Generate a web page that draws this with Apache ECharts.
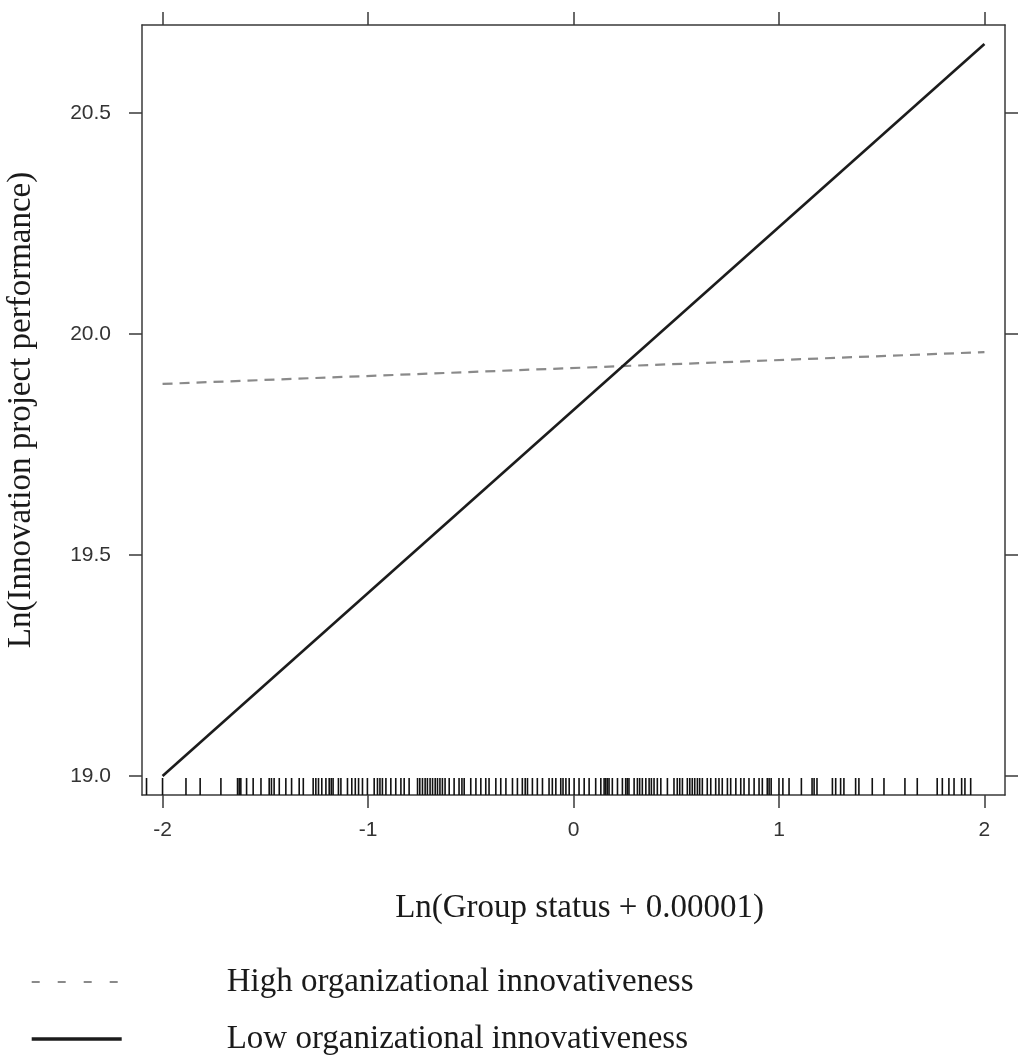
<!DOCTYPE html>
<html><head><meta charset="utf-8">
<script src="https://cdn.jsdelivr.net/npm/echarts@6/dist/echarts.min.js"></script>
<style>html,body{margin:0;padding:0;background:#fff}#c{width:1025px;height:1056px}</style>
</head><body><div id="c"></div>
<script>
const xTicks = [-2, -1, 0, 1, 2];
const yTicks = [19.0, 19.5, 20.0, 20.5];
const xRange = [-2.1, 2.1];
const yRange = [18.957, 20.699];
const lineX = [-2, 2];
const highY = [19.887, 19.959];
const lowY = [19.0, 20.656];
const seriesNames = ['High organizational innovativeness', 'Low organizational innovativeness'];
const xTitle = 'Ln(Group status + 0.00001)';
const yTitle = 'Ln(Innovation project performance)';
const rugX = [
  -2.078, -2.0, -1.886, -1.817, -1.716, -1.635, -1.627, -1.619, -1.591, -1.559, -1.521, -1.481, -1.470, -1.457,
  -1.432, -1.400, -1.372, -1.335, -1.315, -1.267, -1.254, -1.241, -1.225, -1.205, -1.189, -1.179, -1.170, -1.144,
  -1.132, -1.100,
  -1.079, -1.062, -1.046, -1.027, -1.003, -0.970, -0.954, -0.942, -0.930, -0.913, -0.889, -0.865, -0.840, -0.824,
  -0.800, -0.759, -0.748, -0.735, -0.722, -0.711, -0.698, -0.686, -0.673, -0.662, -0.650, -0.638, -0.625, -0.605,
  -0.581, -0.557, -0.543, -0.532, -0.500, -0.475, -0.451, -0.427, -0.411, -0.378, -0.354, -0.329, -0.297, -0.273,
  -0.249, -0.235, -0.224, -0.200, -0.176, -0.151, -0.119, -0.103, -0.086,
  -0.062, -0.051, -0.037, -0.021, 0.003, 0.027, 0.052, 0.076, 0.108, 0.133, 0.149, 0.157, 0.165, 0.173, 0.189,
  0.214, 0.238, 0.254, 0.262, 0.270, 0.295, 0.311, 0.322, 0.335, 0.352, 0.368, 0.379, 0.392, 0.408, 0.425, 0.457,
  0.489, 0.505, 0.517, 0.530, 0.554, 0.566, 0.578, 0.590, 0.603, 0.614, 0.627, 0.651, 0.668, 0.692, 0.708, 0.724,
  0.749, 0.765, 0.790, 0.814, 0.830, 0.854, 0.879, 0.903, 0.919, 0.943,
  0.952, 0.962, 1.000, 1.019, 1.049, 1.109, 1.161, 1.171, 1.185, 1.260, 1.276, 1.300, 1.316, 1.373, 1.389, 1.454,
  1.511, 1.613, 1.673, 1.770, 1.795, 1.827, 1.852, 1.889, 1.905, 1.933
];

const axisColor = '#3a3a3a';
const labelFont = {fontFamily: 'Liberation Sans', fontSize: 21, color: '#333'};
const serif = 'Liberation Serif';

function xAxisDef(pos, showLabel) {
  return {
    type: 'value', position: pos, min: xRange[0], max: xRange[1],
    axisLine: {show: true, onZero: false, lineStyle: {color: axisColor, width: 1.5}},
    axisTick: {show: true, inside: false, length: 13, customValues: xTicks, lineStyle: {color: axisColor, width: 1.5}},
    axisLabel: Object.assign({show: showLabel, customValues: xTicks, margin: 25, formatter: v => String(v)}, labelFont),
    splitLine: {show: false},
    name: showLabel ? xTitle : '', nameLocation: 'middle', nameGap: 97,
    nameTextStyle: {fontFamily: serif, fontSize: 33, color: '#1a1a1a', padding: [0, 0, 0, 12]}
  };
}
function yAxisDef(pos, showLabel) {
  return {
    type: 'value', position: pos, min: yRange[0], max: yRange[1],
    axisLine: {show: true, onZero: false, lineStyle: {color: axisColor, width: 1.5}},
    axisTick: {show: true, inside: false, length: 13, customValues: yTicks, lineStyle: {color: axisColor, width: 1.5}},
    axisLabel: Object.assign({show: showLabel, customValues: yTicks, margin: 31, formatter: v => v.toFixed(1)}, labelFont),
    splitLine: {show: false},
    name: showLabel ? yTitle : '', nameLocation: 'middle', nameGap: 104, nameRotate: 90,
    nameTextStyle: {fontFamily: serif, fontSize: 33, color: '#1a1a1a'}
  };
}

const chart = echarts.init(document.getElementById('c'), null, {renderer: 'canvas'});
chart.setOption({
  animation: false,
  backgroundColor: '#fff',
  grid: {left: 142, top: 25, width: 863, height: 770, containLabel: false, outerBoundsMode: 'none'},
  xAxis: [xAxisDef('bottom', true), xAxisDef('top', false)],
  yAxis: [yAxisDef('left', true), yAxisDef('right', false)],
  legend: {
    orient: 'vertical', left: 30, top: 962, height: 120, itemGap: 17, padding: 0,
    itemWidth: 90, itemHeight: 20,
    itemStyle: {opacity: 0},
    textStyle: {fontFamily: serif, fontSize: 33, lineHeight: 40, color: '#1a1a1a', padding: [0, 0, 0, 100]},
    data: [
      {name: seriesNames[0], lineStyle: {color: '#8a8a8a', width: 2.2, type: [8, 18]}},
      {name: seriesNames[1], lineStyle: {color: '#1c1c1c', width: 3.4, type: 'solid'}}
    ]
  },
  series: [
    {
      name: seriesNames[0], type: 'line', symbol: 'none',
      data: lineX.map((x, i) => [x, highY[i]]),
      lineStyle: {color: '#8a8a8a', width: 2.2, type: [10, 7]},
      itemStyle: {color: '#8a8a8a'}
    },
    {
      name: seriesNames[1], type: 'line', symbol: 'none',
      data: lineX.map((x, i) => [x, lowY[i]]),
      lineStyle: {color: '#1c1c1c', width: 2.6},
      itemStyle: {color: '#1c1c1c'}
    },
    {
      type: 'custom', silent: true, clip: false,
      data: rugX.map(v => [v, yRange[0]]),
      encode: {x: 0, y: 1},
      renderItem: function (params, api) {
        const p = api.coord([api.value(0), api.value(1)]);
        return {type: 'line', shape: {x1: p[0], y1: p[1], x2: p[0], y2: p[1] - 17},
          style: {stroke: '#111', lineWidth: 1.6}};
      }
    }
  ]
});
</script></body></html>
